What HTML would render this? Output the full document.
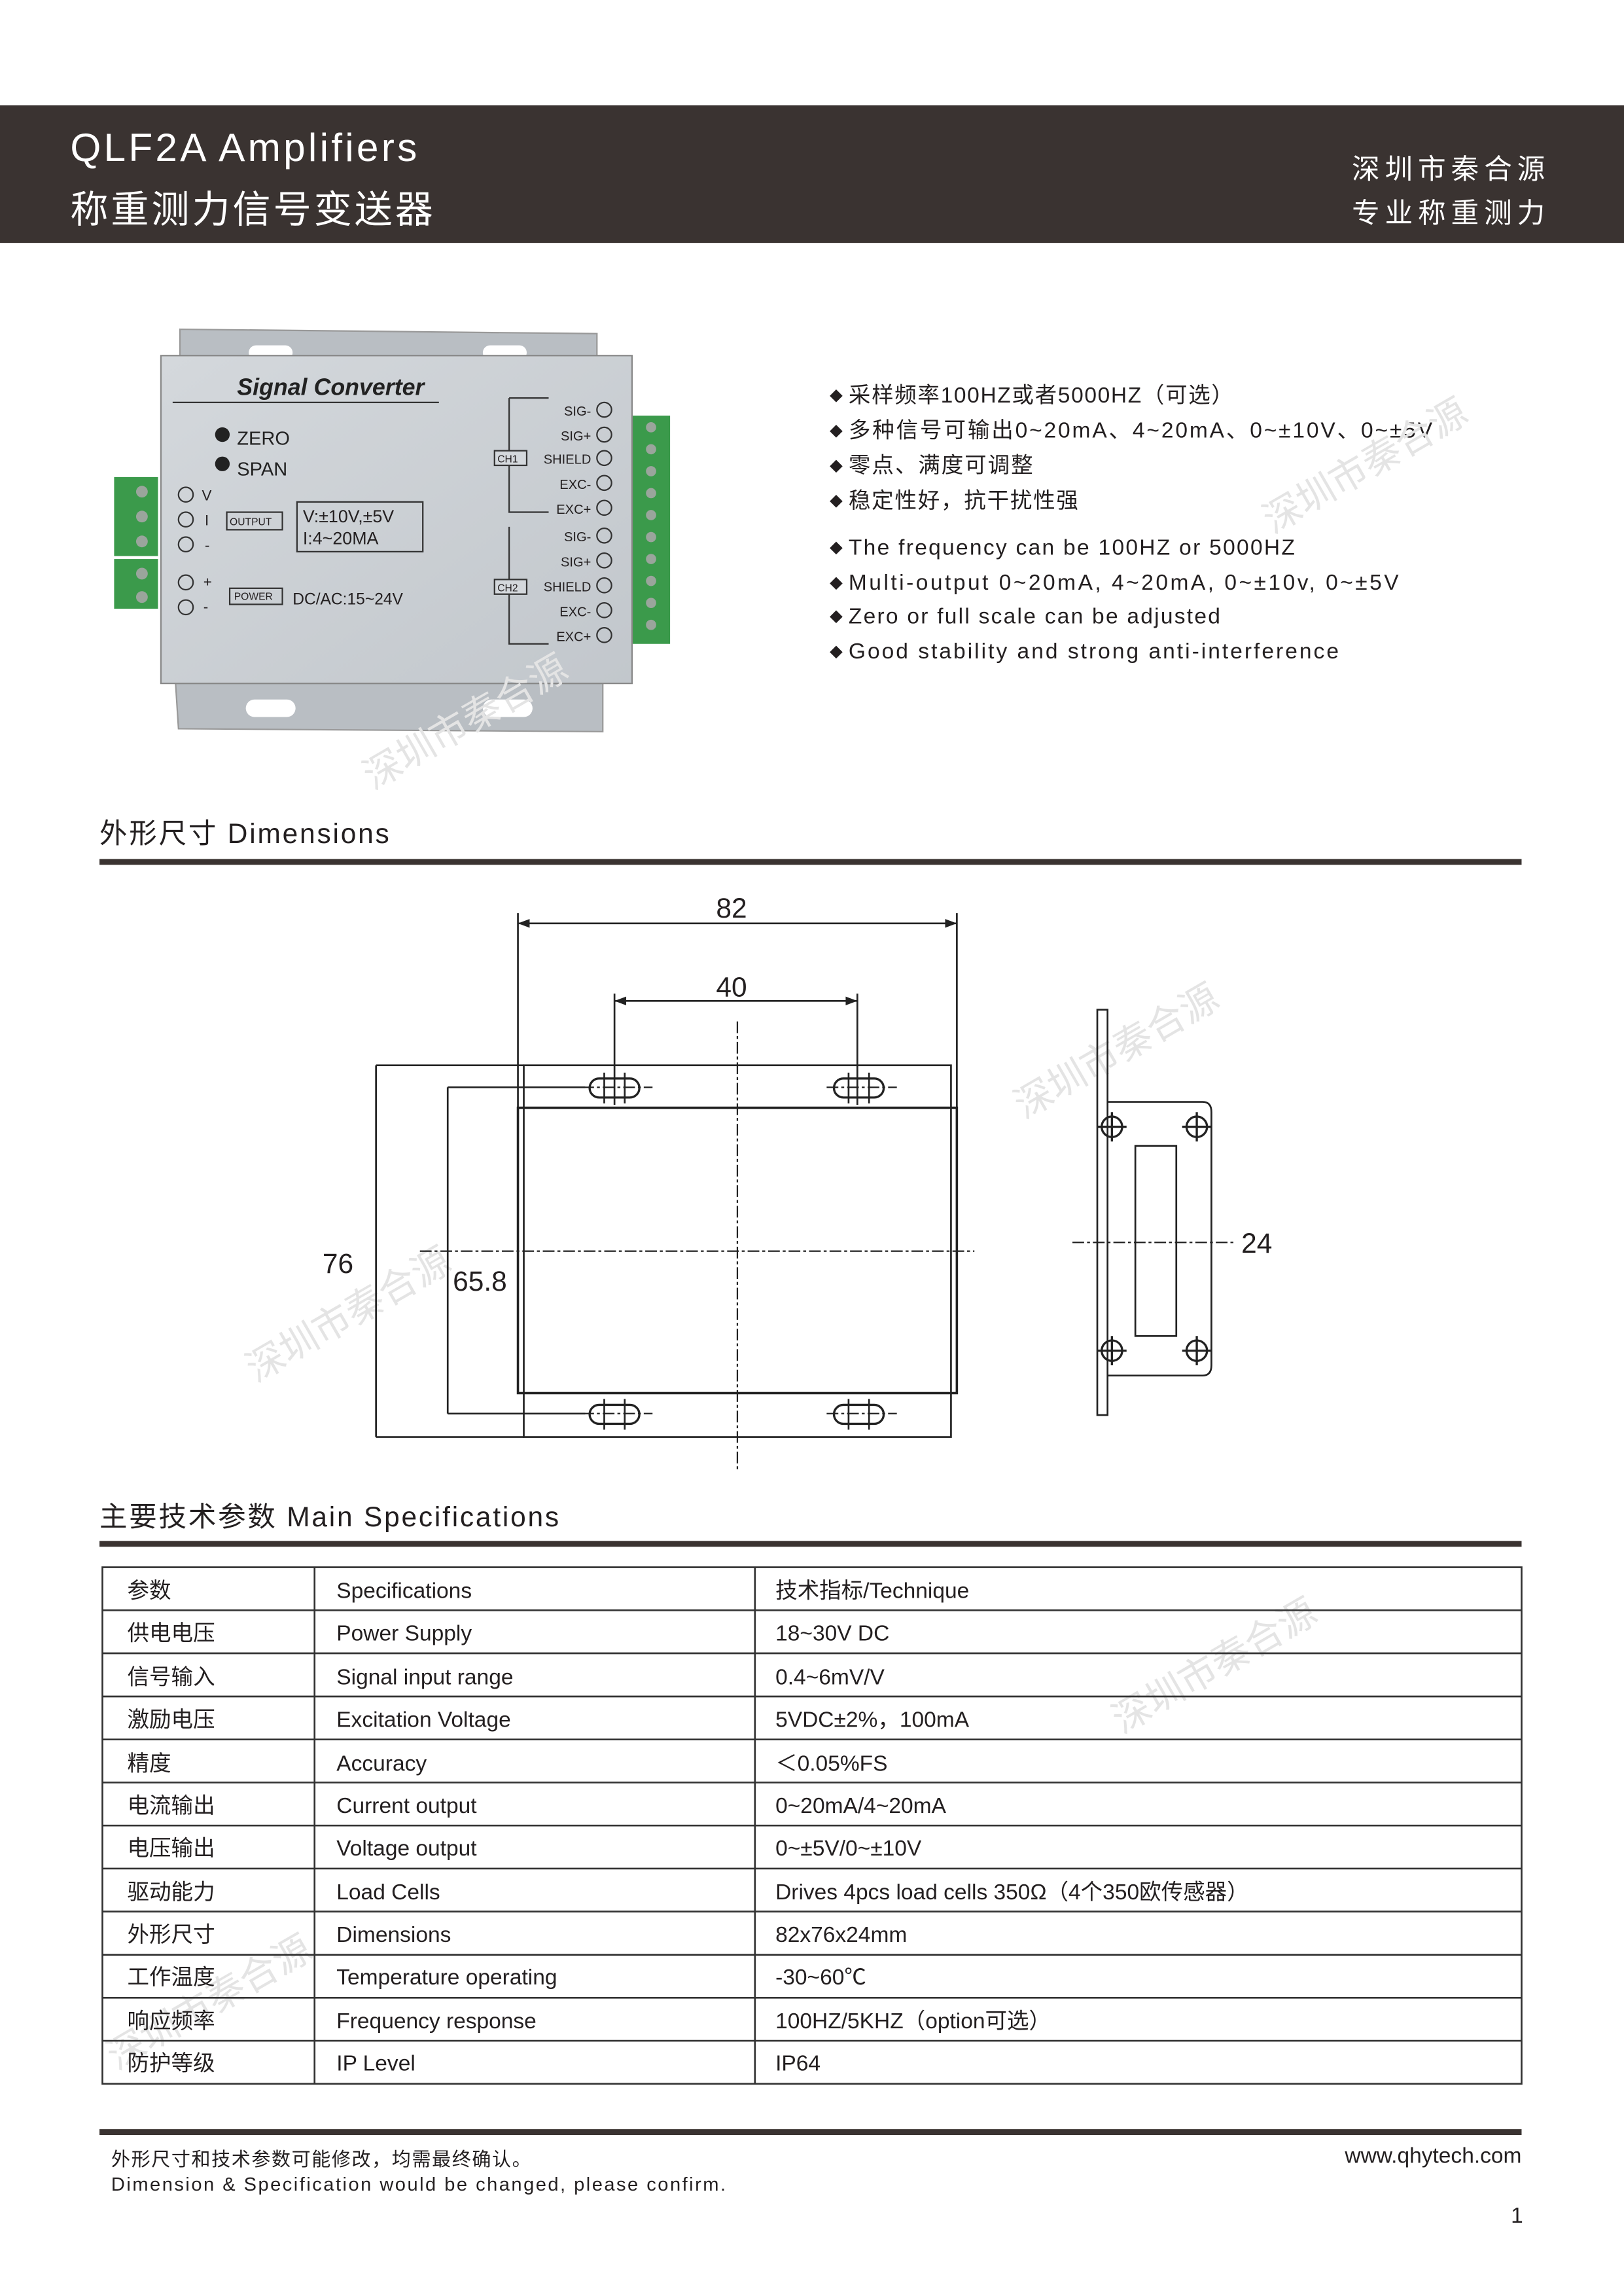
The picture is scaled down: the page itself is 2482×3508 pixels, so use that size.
<!DOCTYPE html>
<html><head><meta charset="utf-8"><style>
html,body{margin:0;padding:0;background:#fff}
svg{display:block}
text{font-family:"Liberation Sans","Noto Sans CJK SC",sans-serif;fill:#231f20}
</style></head><body>
<svg width="2482" height="3508" viewBox="0 0 1110 1569" preserveAspectRatio="none" xmlns="http://www.w3.org/2000/svg">
<rect width="1110" height="1569" fill="#fff"/>
<!-- header -->
<rect x="0" y="72" width="1110" height="94" fill="#3a3331"/>
<text x="48" y="110" font-size="27" style="fill:#fff" textLength="237">QLF2A Amplifiers</text>
<text x="48" y="152" font-size="26" style="fill:#fff" textLength="248">称重测力信号变送器</text>
<text x="924" y="122" font-size="19" style="fill:#fff" textLength="132">深圳市秦合源</text>
<text x="924" y="152" font-size="19" style="fill:#fff" textLength="132">专业称重测力</text>

<!-- device photo -->
<defs><linearGradient id="g" x1="0" y1="0" x2="1" y2="1"><stop offset="0" stop-color="#d4d8dc"/><stop offset="1" stop-color="#c2c7cc"/></linearGradient></defs>
<polygon points="123,225 408,228 408,246 123,246" fill="#b9bec3" stroke="#999"/>
<polygon points="120,467 412,467 412,500 122,498" fill="#b9bec3" stroke="#999"/>
<rect x="170" y="236" width="30" height="10" rx="5" fill="#fff"/><rect x="330" y="236" width="30" height="10" rx="5" fill="#fff"/>
<rect x="168" y="478" width="34" height="12" rx="6" fill="#fff"/><rect x="330" y="478" width="34" height="12" rx="6" fill="#fff"/>
<rect x="78" y="326" width="30" height="54" fill="#3b9a4b"/><rect x="78" y="382" width="30" height="34" fill="#3b9a4b"/>
<rect x="432" y="284" width="26" height="156" fill="#3b9a4b"/>
<g fill="#9aa59c"><circle cx="97" cy="336" r="4"/><circle cx="97" cy="353" r="4"/><circle cx="97" cy="370" r="4"/><circle cx="97" cy="392" r="4"/><circle cx="97" cy="408" r="4"/>
<circle cx="445" cy="292" r="3.5"/><circle cx="445" cy="307" r="3.5"/><circle cx="445" cy="322" r="3.5"/><circle cx="445" cy="337" r="3.5"/><circle cx="445" cy="352" r="3.5"/><circle cx="445" cy="367" r="3.5"/><circle cx="445" cy="382" r="3.5"/><circle cx="445" cy="397" r="3.5"/><circle cx="445" cy="412" r="3.5"/><circle cx="445" cy="427" r="3.5"/></g>
<rect x="110" y="243" width="322" height="224" fill="url(#g)" stroke="#888"/>
<text x="162" y="270" font-size="16" font-style="italic" font-weight="bold" style="fill:#222">Signal Converter</text>
<line x1="118" y1="275" x2="300" y2="275" stroke="#333"/>
<circle cx="152" cy="297" r="5" fill="#222"/><text x="162" y="304" font-size="13" style="fill:#222">ZERO</text>
<circle cx="152" cy="317" r="5" fill="#222"/><text x="162" y="325" font-size="13" style="fill:#222">SPAN</text>
<g fill="none" stroke="#333"><circle cx="127" cy="338" r="5"/><circle cx="127" cy="355" r="5"/><circle cx="127" cy="372" r="5"/><circle cx="127" cy="398" r="5"/><circle cx="127" cy="415" r="5"/>
<rect x="155" y="350" width="38" height="12"/><rect x="203" y="343" width="86" height="34"/><rect x="157" y="402" width="36" height="11"/>
<path d="M348,272 H375 M348,272 V350 H375 M348,360 V440 H375"/>
<rect x="338" y="308" width="22" height="10" fill="#d4d8dc"/><rect x="338" y="396" width="22" height="10" fill="#d4d8dc"/>
<circle cx="413" cy="280" r="5"/><circle cx="413" cy="297" r="5"/><circle cx="413" cy="313" r="5"/><circle cx="413" cy="330" r="5"/><circle cx="413" cy="347" r="5"/><circle cx="413" cy="366" r="5"/><circle cx="413" cy="383" r="5"/><circle cx="413" cy="400" r="5"/><circle cx="413" cy="417" r="5"/><circle cx="413" cy="434" r="5"/></g>
<g font-size="10" style="fill:#222"><text x="138" y="342">V</text><text x="140" y="359">I</text><text x="140" y="376">-</text><text x="139" y="401">+</text><text x="139" y="418">-</text>
<text x="157" y="359" font-size="7">OUTPUT</text><text x="160" y="410" font-size="7">POWER</text>
<text x="207" y="357" font-size="12">V:±10V,±5V</text><text x="207" y="372" font-size="12">I:4~20MA</text>
<text x="200" y="413" font-size="11">DC/AC:15~24V</text>
<text x="340" y="316" font-size="7">CH1</text><text x="340" y="404" font-size="7">CH2</text>
<g font-size="9" text-anchor="end"><text x="404" y="284">SIG-</text><text x="404" y="301">SIG+</text><text x="404" y="317">SHIELD</text><text x="404" y="334">EXC-</text><text x="404" y="351">EXC+</text><text x="404" y="370">SIG-</text><text x="404" y="387">SIG+</text><text x="404" y="404">SHIELD</text><text x="404" y="421">EXC-</text><text x="404" y="438">EXC+</text></g></g>

<!-- bullets -->
<g font-size="15">
<text x="567" y="274" font-size="9">◆</text><text x="580" y="275" textLength="263">采样频率100HZ或者5000HZ（可选）</text>
<text x="567" y="298" font-size="9">◆</text><text x="580" y="299" textLength="399">多种信号可输出0~20mA、4~20mA、0~±10V、0~±5V</text>
<text x="567" y="322" font-size="9">◆</text><text x="580" y="323" textLength="126">零点、满度可调整</text>
<text x="567" y="346" font-size="9">◆</text><text x="580" y="347" textLength="157">稳定性好，抗干扰性强</text>
<text x="567" y="378" font-size="9">◆</text><text x="580" y="379" textLength="305">The frequency can be 100HZ or 5000HZ</text>
<text x="567" y="402" font-size="9">◆</text><text x="580" y="403" textLength="376">Multi-output 0~20mA, 4~20mA, 0~±10v, 0~±5V</text>
<text x="567" y="425" font-size="9">◆</text><text x="580" y="426" textLength="254">Zero or full scale can be adjusted</text>
<text x="567" y="449" font-size="9">◆</text><text x="580" y="450" textLength="335">Good stability and strong anti-interference</text>
</g>

<!-- watermarks -->
<g font-size="26">
<text transform="translate(870,365) rotate(-30)" style="fill:#e4e4e4">深圳市秦合源</text>
<text transform="translate(255,540) rotate(-30)" style="fill:#e4e4e4">深圳市秦合源</text>
<text transform="translate(700,765) rotate(-30)" style="fill:#e4e4e4">深圳市秦合源</text>
<text transform="translate(175,945) rotate(-30)" style="fill:#e4e4e4">深圳市秦合源</text>
<text transform="translate(767,1185) rotate(-30)" style="fill:#e4e4e4">深圳市秦合源</text>
<text transform="translate(80,1415) rotate(-30)" style="fill:#e4e4e4">深圳市秦合源</text>
</g>

<!-- dimensions heading -->
<text x="68" y="576" font-size="19" textLength="198">外形尺寸 Dimensions</text>
<rect x="68" y="587" width="972" height="4" fill="#3a3331"/>

<!-- drawing -->
<g stroke="#222" stroke-width="1.2" fill="none">
<rect x="358" y="728" width="292" height="254"/>
<rect x="354" y="757" width="300" height="195" stroke-width="1.6"/>
<line x1="354" y1="624" x2="354" y2="757"/><line x1="654" y1="624" x2="654" y2="757"/>
<line x1="354" y1="631" x2="654" y2="631"/>
<line x1="420" y1="679" x2="420" y2="755"/><line x1="586" y1="679" x2="586" y2="755"/>
<line x1="420" y1="684" x2="586" y2="684"/>
<line x1="257" y1="728" x2="358" y2="728"/><line x1="257" y1="982" x2="358" y2="982"/><line x1="257" y1="728" x2="257" y2="982"/>
<line x1="306" y1="743" x2="400" y2="743"/><line x1="306" y1="966" x2="400" y2="966"/><line x1="306" y1="743" x2="306" y2="966"/>
<g stroke-width="1.5">
<rect x="403" y="737" width="34" height="13" rx="6.5"/><rect x="570" y="737" width="34" height="13" rx="6.5"/>
<rect x="403" y="960" width="34" height="13" rx="6.5"/><rect x="570" y="960" width="34" height="13" rx="6.5"/>
</g>
<g stroke-dasharray="8,2,2,2" stroke-width="1">
<line x1="504" y1="698" x2="504" y2="1005"/><line x1="287" y1="855" x2="666" y2="855"/>
<line x1="398" y1="743" x2="446" y2="743"/><line x1="565" y1="743" x2="613" y2="743"/>
<line x1="398" y1="966" x2="446" y2="966"/><line x1="565" y1="966" x2="613" y2="966"/>
<line x1="733" y1="849" x2="843" y2="849"/>
</g>
<line x1="413" y1="733" x2="413" y2="754"/><line x1="427" y1="733" x2="427" y2="754"/>
<line x1="580" y1="733" x2="580" y2="754"/><line x1="594" y1="733" x2="594" y2="754"/>
<line x1="413" y1="956" x2="413" y2="977"/><line x1="427" y1="956" x2="427" y2="977"/>
<line x1="580" y1="956" x2="580" y2="977"/><line x1="594" y1="956" x2="594" y2="977"/>
<!-- side view -->
<rect x="750" y="690" width="7" height="277"/>
<path d="M757,753 H822 Q828,753 828,760 V933 Q828,940 822,940 H757"/>
<rect x="776" y="783" width="28" height="130"/>
<g stroke-width="1.5"><circle cx="760" cy="770" r="7"/><circle cx="818" cy="770" r="7"/><circle cx="760" cy="923" r="7"/><circle cx="818" cy="923" r="7"/>
<path d="M760,760V780M750,770H770M818,760V780M808,770H828M760,913V933M750,923H770M818,913V933M808,923H828"/></g>
</g>
<g fill="#222" stroke="none"><path d="M354,631l8,-3v6z"/><path d="M654,631l-8,-3v6z"/><path d="M420,684l8,-3v6z"/><path d="M586,684l-8,-3v6z"/></g>
<g font-size="19">
<text x="500" y="627" text-anchor="middle">82</text>
<text x="500" y="681" text-anchor="middle">40</text>
<text x="231" y="870" text-anchor="middle">76</text>
<text x="328" y="882" text-anchor="middle">65.8</text>
<text x="859" y="856" text-anchor="middle">24</text>
</g>

<!-- specs -->
<text x="68" y="1043" font-size="19" textLength="314">主要技术参数 Main Specifications</text>
<rect x="68" y="1053" width="972" height="4" fill="#3a3331"/>
<g stroke="#333" stroke-width="1.2" fill="none">
<rect x="70" y="1071" width="970" height="353"/>
<line x1="215" y1="1071" x2="215" y2="1424"/><line x1="516" y1="1071" x2="516" y2="1424"/>
<path d="M70,1100.4H1040M70,1129.8H1040M70,1159.3H1040M70,1188.7H1040M70,1218.1H1040M70,1247.5H1040M70,1276.9H1040M70,1306.3H1040M70,1335.8H1040M70,1365.2H1040M70,1394.6H1040"/>
</g>
<g font-size="15">
<text x="87" y="1092">参数</text><text x="230" y="1092">Specifications</text><text x="530" y="1092">技术指标/Technique</text>
<text x="87" y="1121">供电电压</text><text x="230" y="1121">Power Supply</text><text x="530" y="1121">18~30V DC</text>
<text x="87" y="1151">信号输入</text><text x="230" y="1151">Signal input range</text><text x="530" y="1151">0.4~6mV/V</text>
<text x="87" y="1180">激励电压</text><text x="230" y="1180">Excitation Voltage</text><text x="530" y="1180">5VDC±2%，100mA</text>
<text x="87" y="1210">精度</text><text x="230" y="1210">Accuracy</text><text x="530" y="1210">＜0.05%FS</text>
<text x="87" y="1239">电流输出</text><text x="230" y="1239">Current output</text><text x="530" y="1239">0~20mA/4~20mA</text>
<text x="87" y="1268">电压输出</text><text x="230" y="1268">Voltage output</text><text x="530" y="1268">0~±5V/0~±10V</text>
<text x="87" y="1298">驱动能力</text><text x="230" y="1298">Load Cells</text><text x="530" y="1298">Drives 4pcs load cells 350Ω（4个350欧传感器）</text>
<text x="87" y="1327">外形尺寸</text><text x="230" y="1327">Dimensions</text><text x="530" y="1327">82x76x24mm</text>
<text x="87" y="1356">工作温度</text><text x="230" y="1356">Temperature operating</text><text x="530" y="1356">-30~60℃</text>
<text x="87" y="1386">响应频率</text><text x="230" y="1386">Frequency response</text><text x="530" y="1386">100HZ/5KHZ（option可选）</text>
<text x="87" y="1415">防护等级</text><text x="230" y="1415">IP Level</text><text x="530" y="1415">IP64</text>
</g>

<!-- footer -->
<rect x="68" y="1455" width="972" height="4" fill="#3a3331"/>
<text x="76" y="1480" font-size="13" textLength="287">外形尺寸和技术参数可能修改，均需最终确认。</text>
<text x="76" y="1497" font-size="13" textLength="420">Dimension &amp; Specification would be changed, please confirm.</text>
<text x="1040" y="1478" font-size="15" text-anchor="end">www.qhytech.com</text>
<text x="1041" y="1519" font-size="15" text-anchor="end">1</text>
</svg>
</body></html>
